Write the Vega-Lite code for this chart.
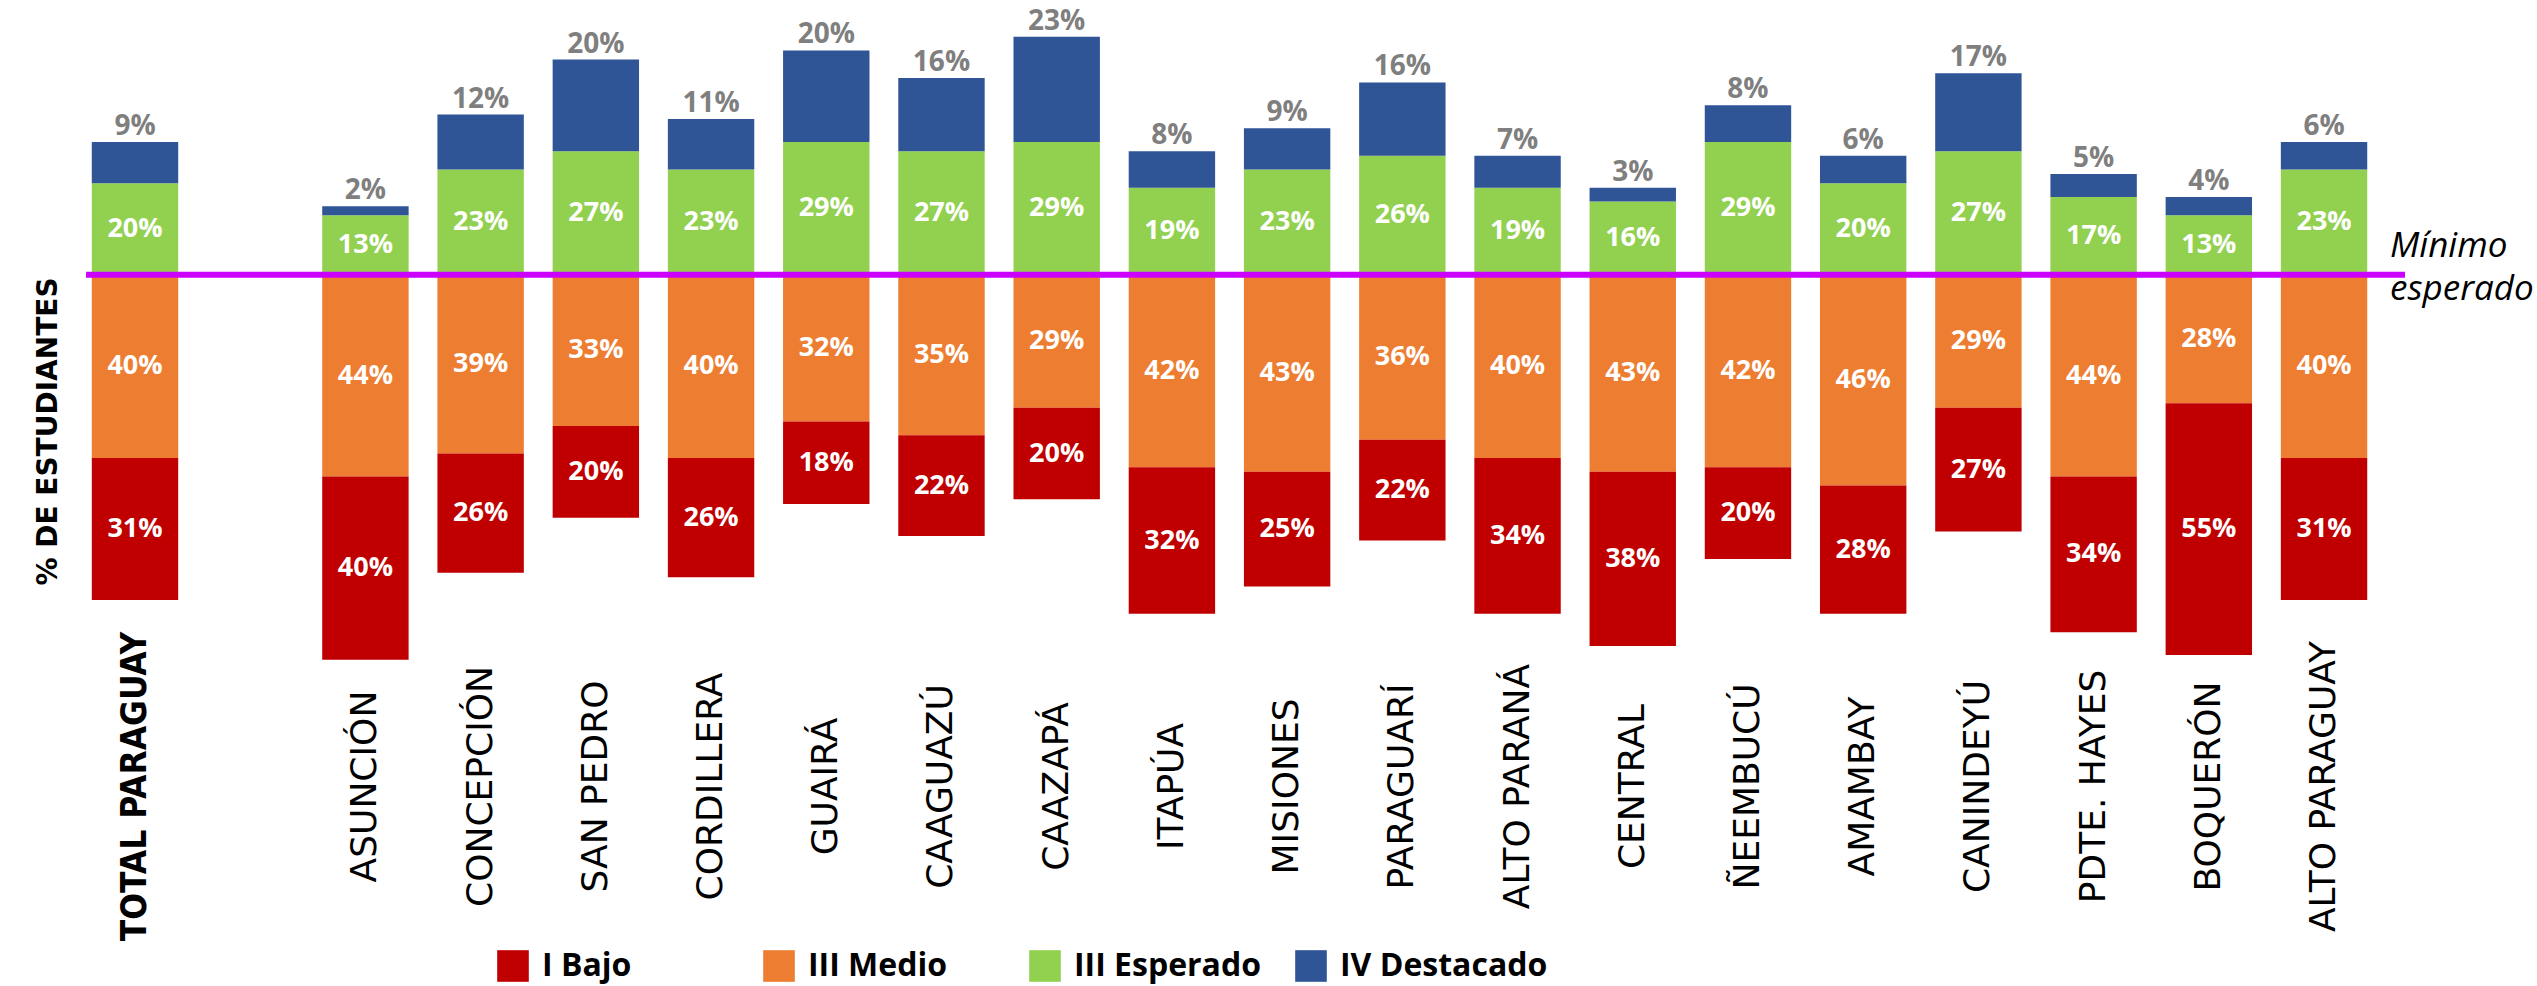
{
  "$schema": "https://vega.github.io/schema/vega-lite/v6.json",
  "width": 2319,
  "height": 678,
  "autosize": {"type": "none"},
  "padding": {"left": 86, "top": 0, "right": 132, "bottom": 308},
  "background": "white",
  "config": {"view": {"stroke": null}},
  "layer": [
    {
      "data": {
        "values": [
          {"dep": "TOTAL PARAGUAY", "I Bajo": -31, "III Medio": -40, "III Esperado": 20, "IV Destacado": 9},
          {"dep": "ASUNCIÓN", "I Bajo": -40, "III Medio": -44, "III Esperado": 13, "IV Destacado": 2},
          {"dep": "CONCEPCIÓN", "I Bajo": -26, "III Medio": -39, "III Esperado": 23, "IV Destacado": 12},
          {"dep": "SAN PEDRO", "I Bajo": -20, "III Medio": -33, "III Esperado": 27, "IV Destacado": 20},
          {"dep": "CORDILLERA", "I Bajo": -26, "III Medio": -40, "III Esperado": 23, "IV Destacado": 11},
          {"dep": "GUAIRÁ", "I Bajo": -18, "III Medio": -32, "III Esperado": 29, "IV Destacado": 20},
          {"dep": "CAAGUAZÚ", "I Bajo": -22, "III Medio": -35, "III Esperado": 27, "IV Destacado": 16},
          {"dep": "CAAZAPÁ", "I Bajo": -20, "III Medio": -29, "III Esperado": 29, "IV Destacado": 23},
          {"dep": "ITAPÚA", "I Bajo": -32, "III Medio": -42, "III Esperado": 19, "IV Destacado": 8},
          {"dep": "MISIONES", "I Bajo": -25, "III Medio": -43, "III Esperado": 23, "IV Destacado": 9},
          {"dep": "PARAGUARÍ", "I Bajo": -22, "III Medio": -36, "III Esperado": 26, "IV Destacado": 16},
          {"dep": "ALTO PARANÁ", "I Bajo": -34, "III Medio": -40, "III Esperado": 19, "IV Destacado": 7},
          {"dep": "CENTRAL", "I Bajo": -38, "III Medio": -43, "III Esperado": 16, "IV Destacado": 3},
          {"dep": "ÑEEMBUCÚ", "I Bajo": -20, "III Medio": -42, "III Esperado": 29, "IV Destacado": 8},
          {"dep": "AMAMBAY", "I Bajo": -28, "III Medio": -46, "III Esperado": 20, "IV Destacado": 6},
          {"dep": "CANINDEYÚ", "I Bajo": -27, "III Medio": -29, "III Esperado": 27, "IV Destacado": 17},
          {"dep": "PDTE. HAYES", "I Bajo": -34, "III Medio": -44, "III Esperado": 17, "IV Destacado": 5},
          {"dep": "BOQUERÓN", "I Bajo": -55, "III Medio": -28, "III Esperado": 13, "IV Destacado": 4},
          {"dep": "ALTO PARAGUAY", "I Bajo": -31, "III Medio": -40, "III Esperado": 23, "IV Destacado": 6}
        ]
      },
      "transform": [
        {"fold": ["III Esperado", "IV Destacado", "III Medio", "I Bajo"], "as": ["nivel", "valor"]},
        {"stack": "valor", "groupby": ["dep"], "as": ["y0", "y1"]},
        {"calculate": "(datum.y0 + datum.y1) / 2", "as": "ymid"}
      ],
      "encoding": {
        "x": {
          "field": "dep",
          "type": "nominal",
          "sort": null,
          "scale": {
            "domain": ["TOTAL PARAGUAY", " ", "ASUNCIÓN", "CONCEPCIÓN", "SAN PEDRO", "CORDILLERA", "GUAIRÁ", "CAAGUAZÚ", "CAAZAPÁ", "ITAPÚA", "MISIONES", "PARAGUARÍ", "ALTO PARANÁ", "CENTRAL", "ÑEEMBUCÚ", "AMAMBAY", "CANINDEYÚ", "PDTE. HAYES", "BOQUERÓN", "ALTO PARAGUAY"],
            "paddingInner": 0.25,
            "paddingOuter": 0.189,
            "align": 0.133
          },
          "axis": {
            "title": null,
            "labelAngle": -90,
            "labelAlign": "center",
            "labelBaseline": "middle",
            "ticks": false,
            "domain": false,
            "grid": false,
            "labelPadding": 108,
            "labelColor": "black",
            "labelLimit": 500,
            "labelFont": {"condition": {"test": "datum.value === 'TOTAL PARAGUAY'", "value": "Liberation Sans Narrow, DejaVu Sans Condensed, sans-serif"}, "value": "DejaVu Sans"},
            "labelFontSize": {"condition": {"test": "datum.value === 'TOTAL PARAGUAY'", "value": 35}, "value": 36},
            "labelFontWeight": {"condition": {"test": "datum.value === 'TOTAL PARAGUAY'", "value": "bold"}, "value": "normal"}
          }
        }
      },
      "layer": [
        {
          "mark": {"type": "bar"},
          "encoding": {
            "y": {
              "field": "y0",
              "type": "quantitative",
              "scale": {"domain": [-88, 60], "nice": false, "zero": true},
              "axis": {
                "title": "% DE ESTUDIANTES",
                "labels": false,
                "ticks": false,
                "domain": false,
                "grid": false,
                "titleFont": "DejaVu Sans",
                "titleFontSize": 28,
                "titleFontWeight": "bold",
                "titleColor": "black",
                "titleAngle": 270,
                "titleX": -38,
                "titleY": 431,
                "titleAlign": "center",
                "titleBaseline": "middle"
              }
            },
            "y2": {"field": "y1"},
            "color": {
              "field": "nivel",
              "type": "nominal",
              "scale": {
                "domain": ["I Bajo", "III Medio", "III Esperado", "IV Destacado"],
                "range": ["#C00000", "#ED7D31", "#92D050", "#2F5597"]
              },
              "legend": {
                "title": null,
                "orient": "none",
                "legendX": 411,
                "legendY": 950,
                "direction": "horizontal",
                "columns": 4,
                "gridAlign": "all",
                "columnPadding": 13,
                "padding": 0,
                "symbolType": "square",
                "symbolSize": 1000,
                "symbolStrokeWidth": 0,
                "symbolOpacity": 1,
                "labelFont": "Open Sans",
                "labelFontSize": 32,
                "labelFontWeight": "bold",
                "labelColor": "black",
                "labelOffset": 13,
                "labelLimit": 400
              }
            }
          }
        },
        {
          "transform": [{"filter": "datum.nivel !== 'IV Destacado'"}],
          "mark": {
            "type": "text",
            "color": "white",
            "font": "Open Sans",
            "fontSize": 27,
            "fontWeight": "bold",
            "baseline": "middle",
            "align": "center",
            "text": {"expr": "abs(datum.valor) + '%'"}
          },
          "encoding": {
            "y": {"field": "ymid", "type": "quantitative"}
          }
        },
        {
          "transform": [{"filter": "datum.nivel === 'IV Destacado'"}],
          "mark": {
            "type": "text",
            "color": "#7F7F7F",
            "font": "Open Sans",
            "fontSize": 28,
            "fontWeight": "bold",
            "baseline": "alphabetic",
            "align": "center",
            "dy": -7,
            "text": {"expr": "abs(datum.valor) + '%'"}
          },
          "encoding": {
            "y": {"field": "y1", "type": "quantitative"}
          }
        }
      ]
    },
    {
      "data": {"values": [{"ref": "Mínimo esperado"}]},
      "mark": {"type": "rule", "color": "#CC00FF", "strokeWidth": 6},
      "encoding": {"y": {"datum": 0}}
    },
    {
      "data": {"values": [{"ref": "Mínimo esperado"}]},
      "mark": {
        "type": "text",
        "text": ["Mínimo", "esperado"],
        "font": "Open Sans",
        "fontStyle": "italic",
        "fontSize": 35,
        "lineHeight": 43,
        "color": "black",
        "align": "left",
        "baseline": "alphabetic",
        "dx": 66,
        "dy": -18
      },
      "encoding": {
        "x": {"datum": "ALTO PARAGUAY"},
        "y": {"datum": 0}
      }
    }
  ]
}
